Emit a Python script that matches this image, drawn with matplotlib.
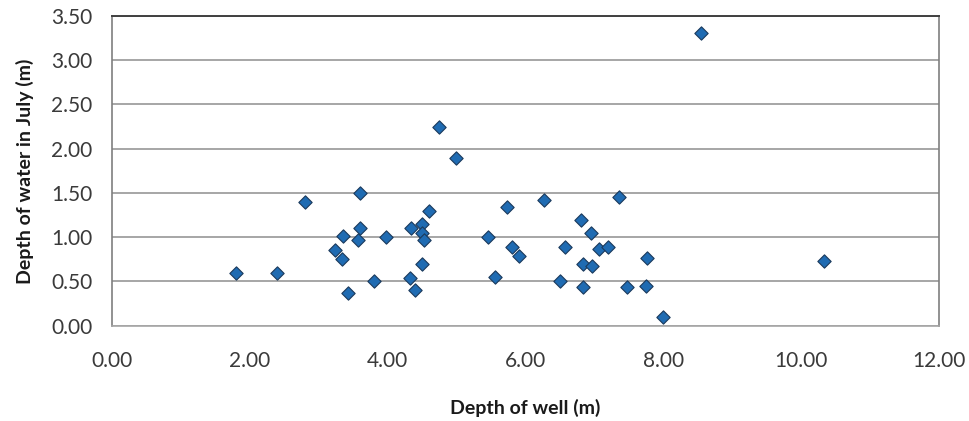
import matplotlib
matplotlib.use("Agg")
import numpy as np
from matplotlib import pyplot as plt

# depth of well (m) and depth of water in July (m)
well_depth = [1.80, 2.40, 2.80, 3.60, 3.35, 3.60, 3.57, 3.24, 3.34, 3.43,
              3.80, 3.97, 4.34, 4.50, 4.50, 4.53, 4.60, 4.50, 4.33, 4.40,
              4.74, 4.99, 5.45, 5.55, 5.73, 5.80, 5.90, 6.27, 6.57, 6.50,
              6.80, 6.95, 7.07, 7.20, 6.83, 6.97, 6.83, 7.35, 7.47, 8.55,
              7.76, 7.75, 8.00, 10.33]
water_depth = [0.60, 0.60, 1.40, 1.50, 1.01, 1.10, 0.97, 0.86, 0.75, 0.37,
               0.50, 1.00, 1.10, 1.15, 1.05, 0.97, 1.30, 0.70, 0.54, 0.40,
               2.24, 1.90, 1.00, 0.55, 1.34, 0.89, 0.79, 1.42, 0.89, 0.50,
               1.20, 1.05, 0.87, 0.89, 0.70, 0.67, 0.44, 1.45, 0.44, 3.31,
               0.76, 0.45, 0.10, 0.73]

xticks = [0, 2, 4, 6, 8, 10, 12]
yticks = [0, 0.5, 1.0, 1.5, 2.0, 2.5, 3.0, 3.5]

plt.rcParams["font.family"] = ["Lato", "DejaVu Sans"]

fig = plt.figure(figsize=(9.7, 4.21), dpi=100)
ax = fig.add_axes([0.1152, 0.2264, 0.8532, 0.7356])

ax.scatter(well_depth, water_depth, marker="D", s=46, color="#1F6BB2",
           edgecolors="#1B3A5C", linewidths=0.8, zorder=3)

ax.set_xlim(0, 12)
ax.set_ylim(0, 3.5)
ax.set_xticks(xticks)
ax.set_yticks(yticks)
ax.set_xticklabels(["%.2f" % v for v in xticks])
ax.set_yticklabels(["%.2f" % v for v in yticks])
ax.tick_params(axis="both", length=0, labelsize=15, colors="#3a3a3a")
ax.tick_params(axis="x", pad=18)
ax.tick_params(axis="y", pad=14)

ax.yaxis.grid(True, color="#a6a6a6", linewidth=1.4)
ax.set_axisbelow(True)
for sp in ax.spines.values():
    sp.set_color("#7f7f7f")
    sp.set_linewidth(1.2)
ax.spines["top"].set_color("#404040")
ax.spines["top"].set_linewidth(1.4)
ax.spines["bottom"].set_color("#a6a6a6")

ax.set_xlabel("Depth of well (m)", fontsize=14, fontweight="bold", color="#1a1a1a", labelpad=20)
ax.set_ylabel("Depth of water in July (m)", fontsize=14, fontweight="bold", color="#1a1a1a", labelpad=12)

fig.savefig("out.png", dpi=100)
